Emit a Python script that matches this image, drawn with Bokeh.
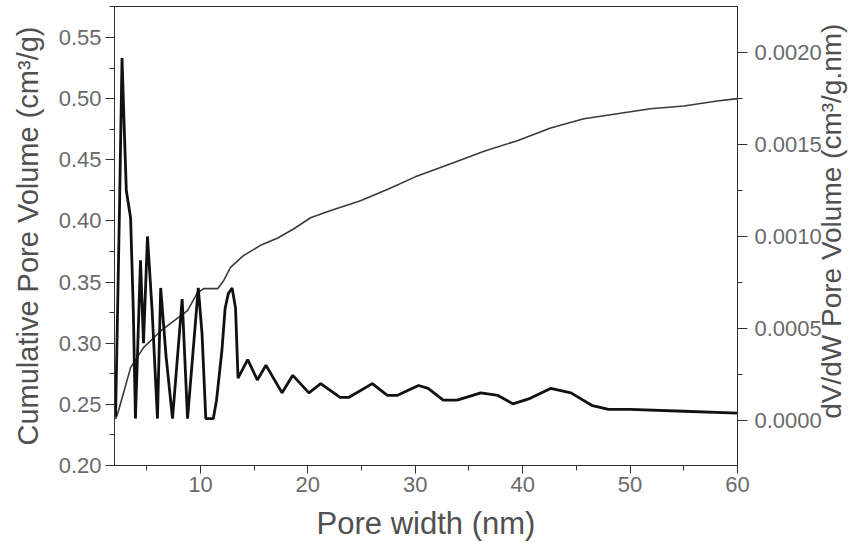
import math
from bokeh.plotting import figure
from bokeh.models import Range1d, LinearAxis, SingleIntervalTicker, NumeralTickFormatter
from bokeh.embed import file_html
from bokeh.resources import INLINE

# ---- data ----
pore_width_cum = [2.1, 2.3, 3.5, 4.7, 6.3, 7.5, 8.8, 9.7, 10.3, 11.6, 12.15, 12.8, 14.0, 15.6,
                  17.2, 18.7, 20.25, 22.0, 24.9, 27.5, 30.0, 33.3, 36.4, 39.5, 42.6, 45.7,
                  48.8, 51.9, 55.0, 58.1, 60.0]
cum_volume = [0.238, 0.2425, 0.280, 0.2964, 0.310, 0.318, 0.3266, 0.341, 0.3446, 0.3446, 0.351,
              0.362, 0.3716, 0.380, 0.386, 0.3936, 0.4026, 0.408, 0.4165, 0.426, 0.436, 0.4468,
              0.457, 0.4656, 0.476, 0.4835, 0.4876, 0.4917, 0.494, 0.498, 0.500]

pore_width_dv = [2.1, 2.45, 2.7, 2.9, 3.1, 3.5, 3.75, 3.95, 4.42, 4.7, 5.07, 5.5, 6.0, 6.3,
                 6.8, 7.4, 8.3, 8.8, 9.8, 10.15, 10.5, 11.2, 11.5, 12.0, 12.3, 12.6, 12.95,
                 13.27, 13.5, 14.4, 15.3, 16.1, 17.6, 18.6, 20.1, 21.2, 23.0, 23.8, 26.0, 27.4,
                 28.3, 30.3, 31.2, 32.6, 33.9, 36.1, 37.7, 39.1, 40.7, 42.6, 44.5, 46.5, 48.0,
                 50.0, 55.0, 60.0]
dv_dw = [0.00002, 0.0011, 0.00197, 0.0016, 0.00125, 0.0011, 0.0006, 0.00001, 0.00087, 0.00042,
         0.001, 0.0006, 0.00001, 0.00072, 0.00035, 0.00001, 0.00066, 0.00001, 0.00072, 0.00047,
         0.00001, 0.00001, 0.00011, 0.00038, 0.00061, 0.00069, 0.00072, 0.00061, 0.00023,
         0.00033, 0.00022, 0.0003, 0.00015, 0.000245, 0.00015, 0.0002, 0.000125, 0.000125,
         0.0002, 0.000136, 0.000136, 0.00019, 0.000174, 0.00011, 0.00011, 0.00015, 0.000136,
         0.00009, 0.00012, 0.000174, 0.00015, 0.00008, 0.00006, 0.00006, 0.00005, 0.00004]

x_title = "Pore width (nm)"
left_title = "Cumulative Pore Volume (cm³/g)"
right_title = "dV/dW Pore Volume (cm³/g.nm)"

FONT = "Liberation Sans"
TICK_COLOR = "#6a6a6a"
TITLE_COLOR = "#505050"
AXIS_COLOR = "#303030"

p = figure(width=865, height=550, output_backend="svg", toolbar_location=None,
           x_range=Range1d(2.0, 60.0), y_range=Range1d(0.20, 0.5753))
p.min_border_left = 114
p.min_border_right = 128
p.min_border_top = 6
p.min_border_bottom = 85
p.background_fill_color = "white"
p.border_fill_color = "white"
p.outline_line_color = AXIS_COLOR
p.outline_line_width = 1
p.xgrid.visible = False
p.ygrid.visible = False

p.extra_y_ranges = {"dv": Range1d(-0.000245, 0.00225)}

p.line(pore_width_cum, cum_volume, line_color="#3a3a3a", line_width=1.6)
p.line(pore_width_dv, dv_dw, line_color="#111111", line_width=2.8, y_range_name="dv")


def style(ax, tick_out, label_standoff, title_standoff):
    ax.axis_line_color = AXIS_COLOR
    ax.axis_line_width = 1
    ax.major_tick_line_color = AXIS_COLOR
    ax.minor_tick_line_color = AXIS_COLOR
    ax.major_tick_in = 0
    ax.major_tick_out = tick_out
    ax.minor_tick_in = 0
    ax.minor_tick_out = 5
    ax.major_label_text_font = FONT
    ax.major_label_text_font_size = "22px"
    ax.major_label_text_color = TICK_COLOR
    ax.major_label_standoff = label_standoff
    ax.axis_label_text_font = FONT
    ax.axis_label_text_font_size = "29px"
    ax.axis_label_text_font_style = "normal"
    ax.axis_label_text_color = TITLE_COLOR
    ax.axis_label_standoff = title_standoff


xa = p.xaxis[0]
xa.ticker = SingleIntervalTicker(interval=10, num_minor_ticks=2)
xa.axis_label = x_title
style(xa, 8, 3, 11)
xa.axis_label_text_font_size = "31px"

ya = p.yaxis[0]
ya.ticker = SingleIntervalTicker(interval=0.05, num_minor_ticks=2)
ya.formatter = NumeralTickFormatter(format="0.00")
ya.axis_label = left_title
style(ya, 9, 4, 12)

ra = LinearAxis(y_range_name="dv")
ra.ticker = SingleIntervalTicker(interval=0.0005, num_minor_ticks=2)
ra.formatter = NumeralTickFormatter(format="0.0000")
# title reads bottom to top; anchored at the bottom of the axis and nudged up
ra.axis_label = "\u00a0" * 6 + right_title
style(ra, 10, 7, 7)
ra.axis_label_text_font_size = "28px"
ra.axis_label_orientation = math.pi / 2
try:
    ra.axis_label_align = "start"
except Exception:
    pass
p.add_layout(ra, "right")

open("out.html", "w").write(file_html(p, INLINE))
